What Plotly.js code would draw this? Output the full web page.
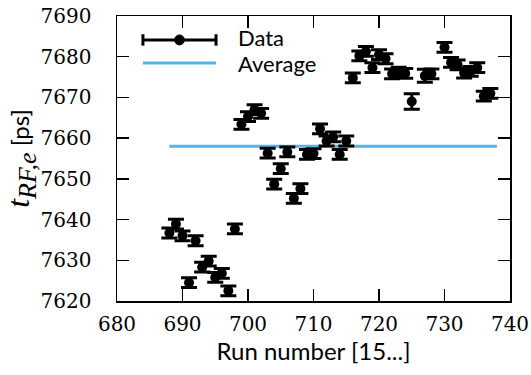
<!DOCTYPE html>
<html>
<head>
<meta charset="utf-8">
<script src="https://cdn.plot.ly/plotly-3.0.1.min.js"></script>
<style>html,body{margin:0;padding:0;background:#fff;}#chart{width:531px;height:375px;}</style>
</head>
<body>
<div id="chart"></div>
<script>
// Data
const runs = [688,689,690,691,692,693,694,695,696,697,698,
              699,700,701,702,703,704,705,706,707,708,709,710,711,712,713,714,715,
              716,717,718,719,720,721,722,723,724,725,727,728,730,731,732,733,734,735,736,737];
const tRF  = [7636.7,7638.9,7636.0,7624.5,7634.8,7628.3,7629.8,7625.8,7626.8,7622.5,7637.7,
              7663.4,7665.3,7667.0,7666.1,7656.3,7648.7,7652.5,7656.6,7645.2,7647.6,7656.0,7656.2,7662.3,7659.3,7660.3,7656.0,7659.3,
              7674.8,7680.2,7681.3,7677.3,7680.5,7679.5,7675.8,7676.2,7675.9,7669.0,7675.3,7675.8,7682.3,7678.6,7678.0,7676.0,7676.4,7677.3,7670.3,7671.0];
const tErr = [1.2,1.2,1.2,1.2,1.2,1.2,1.2,1.2,1.2,1.2,1.2,
              1.2,1.2,1.2,1.2,1.2,1.2,1.2,1.2,1.2,1.2,1.2,1.2,1.2,1.2,1.2,1.2,1.2,
              1.2,1.2,1.2,1.2,1.2,1.2,1.2,1.2,1.2,1.9,1.6,1.2,1.2,1.2,1.2,1.2,1.2,1.2,1.2,1.2];
const avgRuns = [688, 738];
const avgVal = [7658.0, 7658.0];
const xTicks = [680,690,700,710,720,730,740];
const yTicks = [7620,7630,7640,7650,7660,7670,7680,7690];
const legendLabels = ["Data", "Average"];

const blue = "rgb(86,180,233)";

const traces = [
  {
    x: avgRuns, y: avgVal, mode: "lines", type: "scatter",
    line: {color: blue, width: 3}, showlegend: false, hoverinfo: "skip"
  },
  {
    x: runs, y: tRF, mode: "markers", type: "scatter",
    marker: {color: "black", size: 10},
    error_y: {type: "data", array: tErr, visible: true, color: "black", thickness: 3, width: 8},
    showlegend: false
  }
];

// legend drawn in paper coordinates
const lx0 = 0.066, lx1 = 0.252, ly1 = 0.916, ly2 = 0.835, ltx = 0.305, lty1 = 0.924;
const shapes = [
  {type: "line", xref: "paper", yref: "paper", x0: lx0, x1: lx1, y0: ly1, y1: ly1, line: {color: "black", width: 3}},
  {type: "line", xref: "paper", yref: "paper", x0: lx0, x1: lx0, y0: ly1 - 0.02, y1: ly1 + 0.02, line: {color: "black", width: 3}},
  {type: "line", xref: "paper", yref: "paper", x0: lx1, x1: lx1, y0: ly1 - 0.02, y1: ly1 + 0.02, line: {color: "black", width: 3}},
  {type: "circle", xref: "paper", yref: "paper", x0: (lx0 + lx1) / 2 - 0.0125, x1: (lx0 + lx1) / 2 + 0.0125,
   y0: ly1 - 0.0175, y1: ly1 + 0.0175, fillcolor: "black", line: {color: "black", width: 1}},
  {type: "line", xref: "paper", yref: "paper", x0: lx0, x1: lx1, y0: ly2, y1: ly2, line: {color: blue, width: 3}}
];
const annotations = [
  {xref: "paper", yref: "paper", x: ltx, y: lty1, xanchor: "left", yanchor: "middle", showarrow: false,
   text: legendLabels[0], font: {family: "Lato", size: 22, color: "black"}, borderpad: 0},
  {xref: "paper", yref: "paper", x: ltx, y: ly2, xanchor: "left", yanchor: "middle", showarrow: false,
   text: legendLabels[1], font: {family: "Lato", size: 22, color: "black"}, borderpad: 0}
];

const axisCommon = {
  showline: true, linecolor: "black", linewidth: 1.5, mirror: "ticks",
  ticks: "inside", ticklen: 12, tickwidth: 1.5, tickcolor: "black",
  showgrid: false, zeroline: false,
  tickfont: {family: "DejaVu Serif", size: 20, color: "black"}
};

const layout = {
  width: 531, height: 375,
  margin: {l: 117, r: 21, t: 16, b: 74},
  paper_bgcolor: "white", plot_bgcolor: "white",
  showlegend: false,
  xaxis: Object.assign({}, axisCommon, {
    range: [680, 740], tickvals: xTicks, ticktext: xTicks.map(String),
    ticklabelstandoff: 4,
    title: {text: "Run number [15...]", font: {family: "Lato", size: 24, color: "black"}, standoff: 8}
  }),
  yaxis: Object.assign({}, axisCommon, {
    range: [7620, 7690], tickvals: yTicks, ticktext: yTicks.map(String),
    ticklabelstandoff: 20,
    title: {text: "<span style=\"font-family:'Liberation Serif';font-size:32px\"><i>t</i><sub><span style=\"font-size:26px\"><i>RF,e</i></span></sub></span> [ps]",
            font: {family: "Lato", size: 24, color: "black"}, standoff: 2}
  }),
  shapes: shapes,
  annotations: annotations
};

Plotly.newPlot("chart", traces, layout, {staticPlot: true, displayModeBar: false});
</script>
</body>
</html>
